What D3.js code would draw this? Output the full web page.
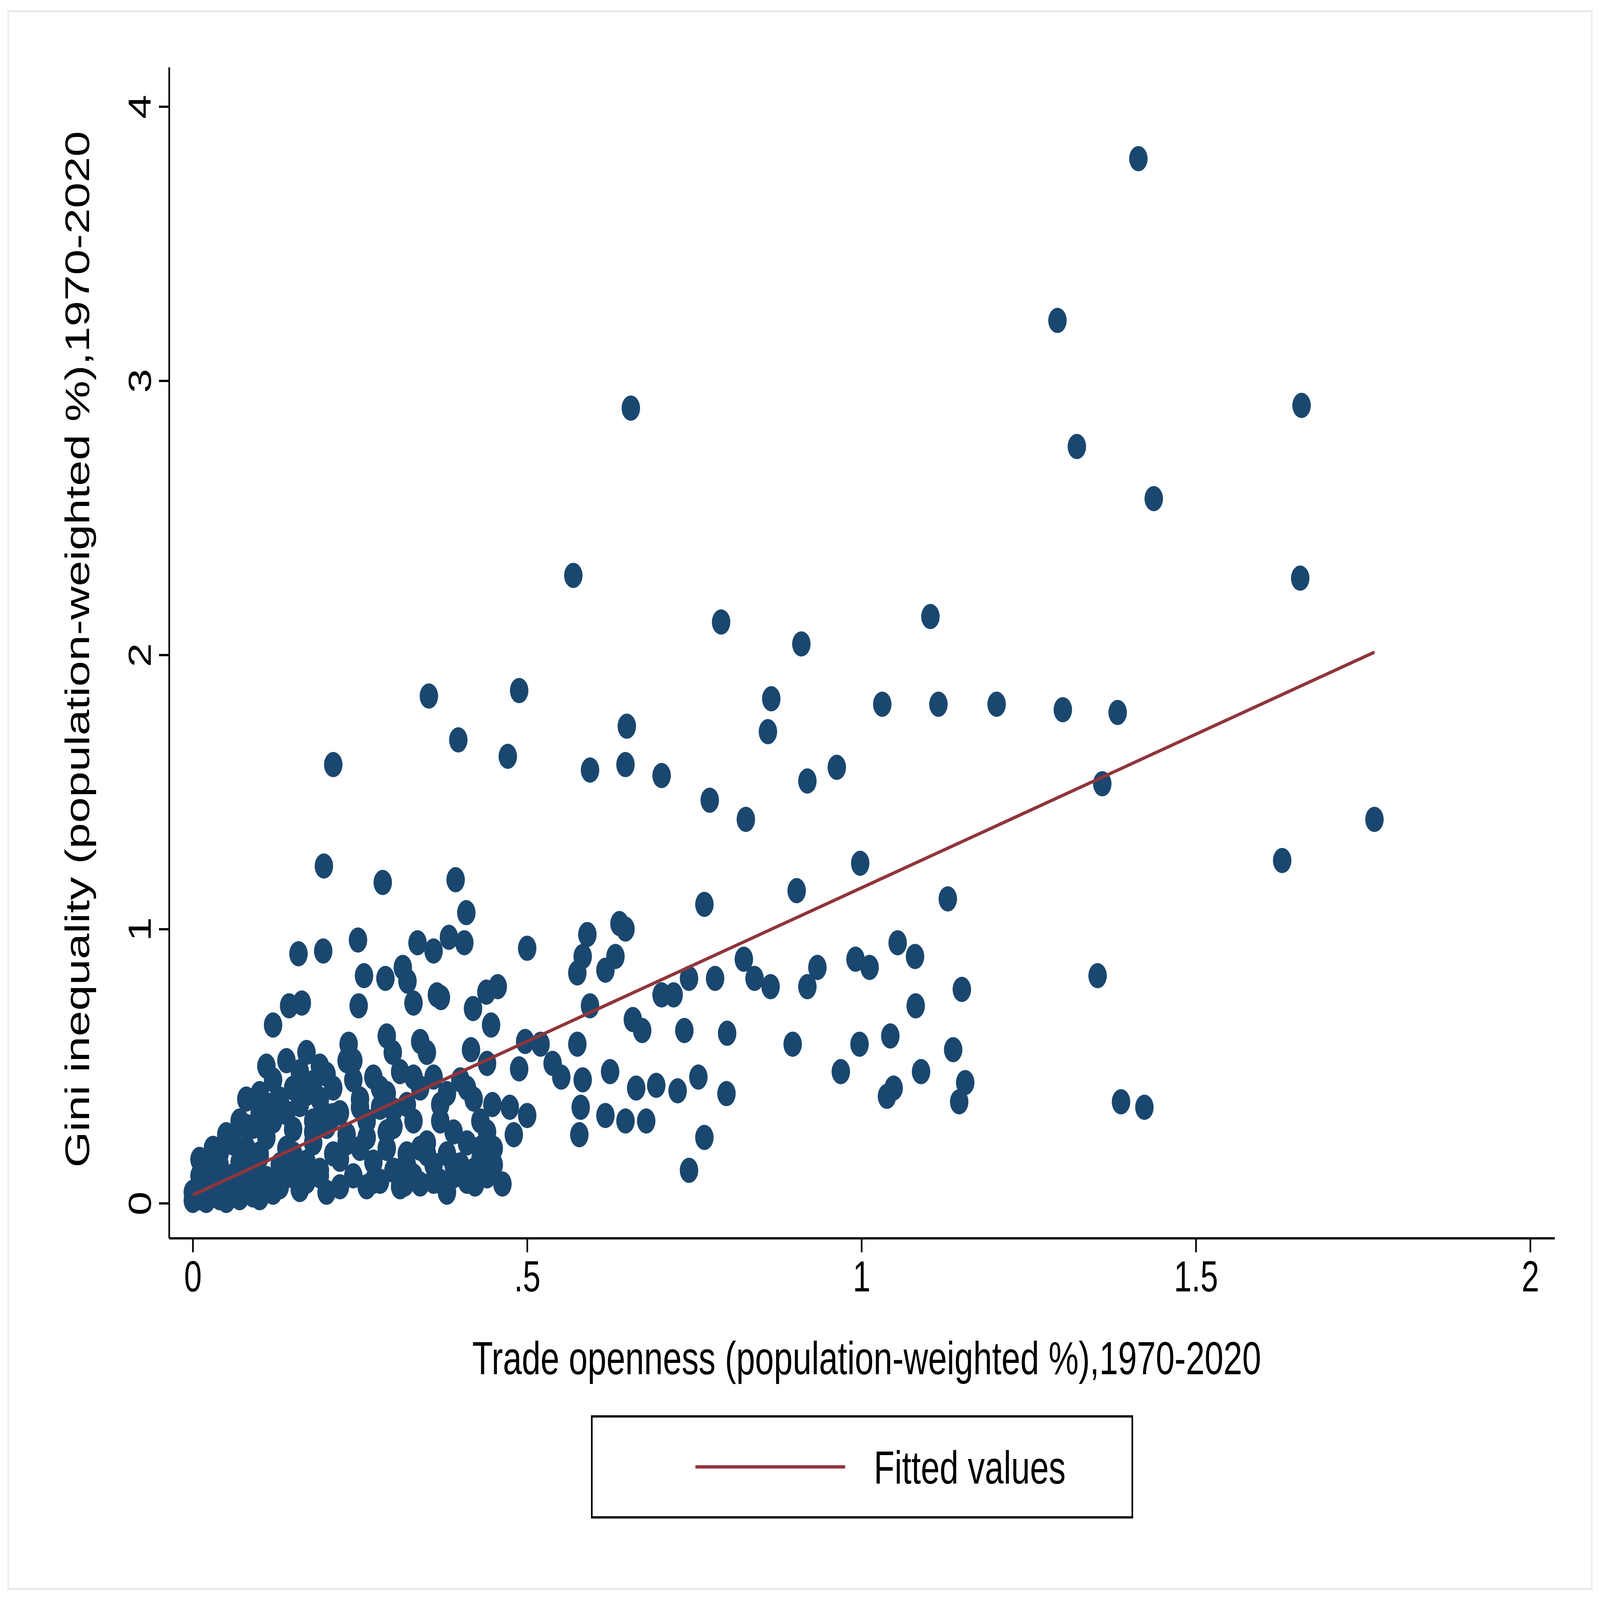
<!DOCTYPE html>
<html><head><meta charset="utf-8">
<script src="https://cdn.jsdelivr.net/npm/d3@7"></script>
<style>html,body{margin:0;padding:0;background:#fff;overflow:hidden;width:100%;height:100%}svg{display:block;width:100vw;height:100vh}</style></head>
<body><svg id="c"></svg>
<script>
const xTicks=[0,0.5,1,1.5,2];
const xTickLabels=["0",".5","1","1.5","2"];
const yTicks=[0,1,2,3,4];
const yTickLabels=["0","1","2","3","4"];
const fitX=[0,1.767];
const fitY=[0.03,2.01];
const ptsX=[1.414,1.293,1.322,1.658,1.437,0.655,0.569,1.656,0.790,1.103,0.910,0.353,0.488,0.865,1.031,1.115,1.202,1.301,1.383,0.649,0.860,0.397,0.471,0.210,0.594,0.647,0.963,0.701,0.919,1.360,0.773,0.827,1.767,1.629,0.998,0.196,0.284,0.393,0.903,1.129,0.765,0.409,0.638,0.647,0.590,0.247,0.336,1.054,0.500,0.360,0.195,0.158,0.406,0.383,1.080,0.632,0.583,0.824,0.991,0.934,1.012,0.314,0.617,0.575,1.353,0.781,0.742,0.840,0.256,0.288,0.321,0.456,0.864,0.919,1.150,0.701,0.719,0.365,0.371,0.439,0.163,0.144,0.330,0.248,0.419,0.594,1.081,0.120,0.446,0.658,0.672,0.735,0.799,1.043,0.290,0.340,0.497,0.233,0.520,0.897,0.997,0.575,1.137,0.416,0.299,0.538,0.440,0.488,0.551,0.756,0.969,1.089,1.155,0.798,0.725,0.693,1.048,1.038,1.146,1.388,1.423,0.583,0.624,0.663,0.580,0.617,0.647,0.678,0.578,0.765,0.742,0.500,0.474,0.448,0.422,0.463,0.317,0.480,
0.00,0.00,0.01,0.01,0.02,0.02,0.02,0.03,0.03,0.03,0.04,0.04,0.04,0.05,0.05,0.05,0.06,0.06,0.06,0.07,0.07,0.07,0.08,0.08,0.08,0.09,0.09,0.09,0.10,0.10,0.10,0.10,0.11,0.11,0.11,0.12,0.12,0.12,0.13,0.13,0.13,0.14,0.14,0.14,0.15,0.15,0.15,0.16,0.16,0.16,0.17,0.17,0.17,0.18,0.18,0.18,0.19,0.19,0.19,0.20,0.20,0.20,0.21,0.21,0.22,0.22,0.23,0.23,0.24,0.24,0.25,0.25,0.26,0.26,0.27,0.27,0.28,0.28,0.29,0.29,0.30,0.30,0.31,0.31,0.32,0.32,0.33,0.33,0.34,0.34,0.35,0.35,0.36,0.36,0.37,0.37,0.38,0.38,0.39,0.39,0.40,0.40,0.41,0.41,0.42,0.42,0.43,0.43,0.44,0.44,0.45,0.45,0.02,0.04,0.06,0.08,0.10,0.12,0.14,0.16,0.18,0.20,0.22,0.24,0.26,0.28,0.30,0.32,0.34,0.36,0.38,0.01,0.03,0.05,0.07,0.09,0.11,0.13,0.15,0.17,0.19,0.21,0.23,0.25,0.27,0.29,0.31,0.33,0.35,0.37,0.39,0.41,0.43];
const ptsY=[3.81,3.22,2.76,2.91,2.57,2.90,2.29,2.28,2.12,2.14,2.04,1.85,1.87,1.84,1.82,1.82,1.82,1.80,1.79,1.74,1.72,1.69,1.63,1.60,1.58,1.60,1.59,1.56,1.54,1.53,1.47,1.40,1.40,1.25,1.24,1.23,1.17,1.18,1.14,1.11,1.09,1.06,1.02,1.00,0.98,0.96,0.95,0.95,0.93,0.92,0.92,0.91,0.95,0.97,0.90,0.90,0.90,0.89,0.89,0.86,0.86,0.86,0.85,0.84,0.83,0.82,0.82,0.82,0.83,0.82,0.81,0.79,0.79,0.79,0.78,0.76,0.76,0.76,0.75,0.77,0.73,0.72,0.73,0.72,0.71,0.72,0.72,0.65,0.65,0.67,0.63,0.63,0.62,0.61,0.61,0.59,0.59,0.58,0.58,0.58,0.58,0.58,0.56,0.56,0.55,0.51,0.51,0.49,0.46,0.46,0.48,0.48,0.44,0.40,0.41,0.43,0.42,0.39,0.37,0.37,0.35,0.45,0.48,0.42,0.35,0.32,0.30,0.30,0.25,0.24,0.12,0.32,0.35,0.36,0.07,0.07,0.07,0.25,
0.01,0.04,0.02,0.10,0.05,0.15,0.01,0.08,0.20,0.03,0.12,0.02,0.18,0.06,0.25,0.01,0.10,0.22,0.04,0.15,0.30,0.02,0.08,0.38,0.20,0.05,0.28,0.12,0.02,0.17,0.40,0.33,0.09,0.24,0.50,0.04,0.30,0.45,0.14,0.38,0.06,0.20,0.52,0.33,0.10,0.42,0.27,0.05,0.48,0.36,0.15,0.55,0.08,0.30,0.44,0.22,0.50,0.12,0.38,0.04,0.28,0.47,0.18,0.42,0.06,0.33,0.25,0.52,0.10,0.45,0.20,0.38,0.06,0.30,0.15,0.46,0.08,0.35,0.20,0.40,0.12,0.28,0.06,0.48,0.18,0.36,0.10,0.30,0.42,0.07,0.22,0.55,0.14,0.46,0.08,0.30,0.18,0.40,0.10,0.26,0.14,0.45,0.08,0.22,0.12,0.38,0.16,0.30,0.10,0.26,0.14,0.20,0.06,0.14,0.22,0.28,0.18,0.36,0.10,0.44,0.26,0.32,0.16,0.52,0.24,0.42,0.34,0.14,0.20,0.08,0.04,0.16,0.06,0.24,0.12,0.03,0.30,0.08,0.18,0.40,0.10,0.32,0.22,0.35,0.08,0.26,0.12,0.46,0.18,0.36,0.14,0.42,0.20,0.10,0.16];
const s=6693/1560;
const W=6693,H=4895;
const svg=d3.select("#c").attr("viewBox",`0 0 ${W} ${H}`).attr("preserveAspectRatio","none");
svg.append("rect").attr("width",W).attr("height",H).attr("fill","#fff");
svg.append("rect").attr("x",8*s).attr("y",8*s).attr("width",1544*s).attr("height",1125*s).attr("fill","none").attr("stroke","#e6e6e6").attr("stroke-width",1.2*s);
const x=d3.scaleLinear().domain([0,2]).range([188*s,1492*s]);
const y=d3.scaleLinear().domain([0,4]).range([858*s,76*s]);
const font="'Liberation Sans', Arial, sans-serif";
const ax=165*s, ay=883*s;
const gx=svg.append("g").attr("transform",`translate(0,${ay})`)
 .call(d3.axisBottom(x).tickValues(xTicks).tickFormat((d,i)=>xTickLabels[i]).tickSize(10*s).tickPadding(6*s).tickSizeOuter(0));
gx.select(".domain").attr("d",`M${ax},0H${1516*s}`).attr("stroke","#000").attr("stroke-width",1.6*s);
gx.selectAll(".tick line").attr("stroke","#000").attr("stroke-width",1.6*s);
gx.selectAll("text").attr("font-family",font).attr("font-size",31*s).attr("fill","#000");
const gy=svg.append("g").attr("transform",`translate(${ax},0)`)
 .call(d3.axisLeft(y).tickValues(yTicks).tickFormat((d,i)=>yTickLabels[i]).tickSize(10*s).tickSizeOuter(0));
gy.select(".domain").attr("d",`M0,${48*s}V${ay}`).attr("stroke","#000").attr("stroke-width",1.6*s);
gy.selectAll(".tick line").attr("stroke","#000").attr("stroke-width",1.6*s);
gy.selectAll(".tick text").attr("font-family",font).attr("font-size",31*s).attr("fill","#000")
 .attr("x",null).attr("y",null).attr("dy",0).attr("text-anchor","middle")
 .attr("transform",`translate(${-18*s},0) rotate(-90)`);
const pts=ptsX.map((v,i)=>[v,ptsY[i]]);
svg.append("g").selectAll("circle").data(pts).join("circle")
 .attr("cx",d=>x(d[0])).attr("cy",d=>y(d[1])).attr("r",9*s).attr("fill","#1a476f");
svg.append("path").datum(fitX.map((v,i)=>[v,fitY[i]]))
 .attr("d",d3.line().x(d=>x(d[0])).y(d=>y(d[1]))).attr("stroke","#90353b").attr("stroke-width",2.4*s).attr("fill","none");
svg.append("text").attr("x",845*s).attr("y",980*s).attr("text-anchor","middle").attr("font-family",font).attr("font-size",33*s).text("Trade openness (population-weighted %),1970-2020");
svg.append("text").attr("transform",`translate(${87*s},${463*s}) rotate(-90)`).attr("text-anchor","middle").attr("font-family",font).attr("font-size",33*s).text("Gini inequality (population-weighted %),1970-2020");
svg.append("rect").attr("x",577*s).attr("y",1010*s).attr("width",527*s).attr("height",72*s).attr("fill","#fff").attr("stroke","#000").attr("stroke-width",1.6*s);
svg.append("line").attr("x1",678*s).attr("x2",824*s).attr("y1",1046*s).attr("y2",1046*s).attr("stroke","#90353b").attr("stroke-width",2.4*s);
svg.append("text").attr("x",852*s).attr("y",1058*s).attr("font-family",font).attr("font-size",33*s).text("Fitted values");
</script></body></html>
